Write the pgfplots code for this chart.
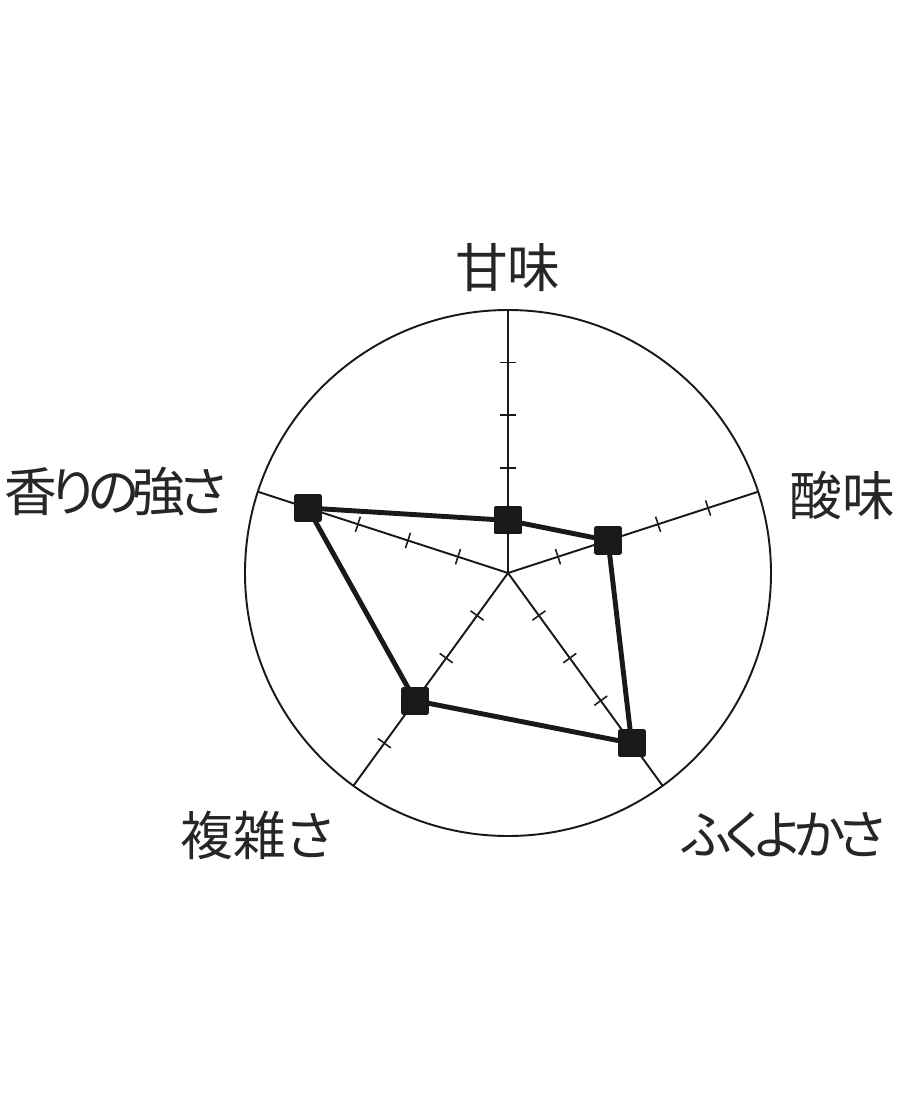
\documentclass[border=0pt]{standalone}
\usepackage{fontspec}
\setmainfont[RawFeature={+palt}]{Noto Sans CJK JP}
\newfontfamily\tightfont[RawFeature={+palt}, LetterSpace=-12]{Noto Sans CJK JP}
\usepackage{pgfplots}
\pgfplotsset{compat=1.18}
\begin{document}
\begin{tikzpicture}
\begin{axis}[
    hide axis,
    x=0.526cm, y=0.526cm,
    xmin=-9.658, xmax=7.833,
    ymin=-10.095, ymax=10.894,
    clip=false,
  ]
\coordinate (BL) at (rel axis cs:0,0);
\coordinate (TR) at (rel axis cs:1,1);
\coordinate (O) at (axis cs:0,0);
% PLOT: scores (angle, value)
\addplot[black!90, line width=1.4pt, line join=round,
         mark=square*, mark size=3.3pt,
         data cs=polar]
coordinates {
  (90,1)
  (18,2)
  (-54,4)
  (-126,3)
  (162,4)
  (90,1)
};
\begin{scope}[font=\fontsize{15}{18}\selectfont, text=black!85]
\node at (axis cs:0,5.80) {甘味};
\node[anchor=west] at (axis cs:5.12,1.48) {酸味};
\node[anchor=east] at (axis cs:-5.12,1.54) {\tightfont 香りの強さ};
\node at (axis cs:-4.77,-4.98) {複雑さ};
\node at (axis cs:5.24,-4.98) {\tightfont ふくよかさ};
\end{scope}
\end{axis}
% frame: circle, spokes and ticks
\begin{scope}[shift={(O)}, black!90, line width=0.55pt]
\draw (0,0) circle (2.63cm);
\foreach \a in {90,18,-54,-126,162}{
  \draw[rotate=\a] (0,0) -- (2.63cm,0);
  \foreach \r in {1,2,3,4}
    \draw[rotate=\a, line width=0.45pt] (\r*0.526cm,-0.08cm) -- (\r*0.526cm,0.08cm);
}
\end{scope}
\pgfresetboundingbox
\path[use as bounding box] (BL) rectangle (TR);
\end{tikzpicture}
\end{document}
